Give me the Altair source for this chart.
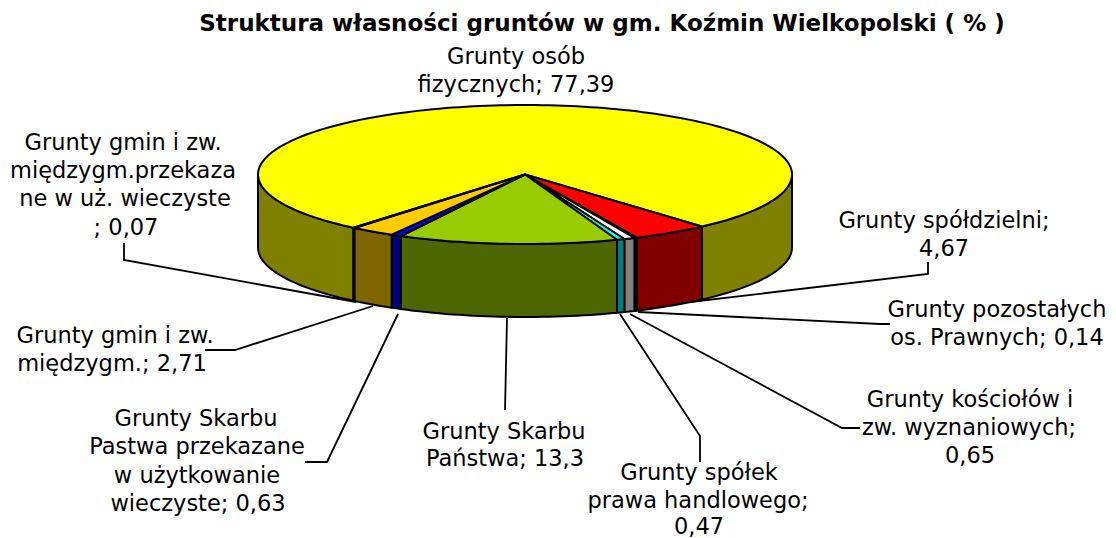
import math
import altair as alt
import pandas as pd

TITLE = "Struktura własności gruntów w gm. Koźmin Wielkopolski ( % )"
NAMES = ["Grunty osób fizycznych", "Grunty spółdzielni", "Grunty pozostałych os. Prawnych",
         "Grunty kościołów i zw. wyznaniowych", "Grunty spółek prawa handlowego",
         "Grunty Skarbu Państwa", "Grunty Skarbu Pastwa przekazane w użytkowanie wieczyste",
         "Grunty gmin i zw. międzygm.", "Grunty gmin i zw. międzygm.przekazane w uż. wieczyste"]
VALUES = [77.39, 4.67, 0.14, 0.65, 0.47, 13.3, 0.63, 2.71, 0.07]
TOPS = ["#FFFF00", "#FF0000", "#CCFFCC", "#FFFFFF", "#00FFFF", "#99CC00", "#0000FF", "#FFCC00", "#FFCC00"]
SIDES = ["#808000", "#800000", "#808080", "#808080", "#008080", "#4D6600", "#000080", "#806600", "#806600"]

LABEL_TEXT = ["Grunty osób", "fizycznych; 77,39",
              "Grunty gmin i zw.", "międzygm.przekaza", "ne w uż. wieczyste", "; 0,07",
              "Grunty spółdzielni;", "4,67",
              "Grunty pozostałych", "os. Prawnych; 0,14",
              "Grunty kościołów i", "zw. wyznaniowych;", "0,65",
              "Grunty spółek", "prawa handlowego;", "0,47",
              "Grunty Skarbu", "Państwa; 13,3",
              "Grunty Skarbu", "Pastwa przekazane", "w użytkowanie", "wieczyste; 0,63",
              "Grunty gmin i zw.", "międzygm.; 2,71"]
LABEL_X = [516, 516, 123, 123, 125, 126, 944, 944, 997, 997, 970, 969, 970,
           699, 698, 699, 504, 505, 196, 197, 197, 198, 115, 112]
LABEL_Y = [57, 85, 143, 171, 199, 228, 221, 249, 310, 338, 400, 428, 456,
           473, 501, 527, 432, 459, 419, 447, 476, 504, 336, 364]

LEADER_ID = [1]*3 + [2]*3 + [3]*3 + [4]*2 + [5]*3 + [6]*3 + [7]*3 + [8]*3
LEADER_X = [124, 124, 356, 205, 235, 373, 305, 327, 398, 505, 507,
            700, 700, 620, 860, 842, 630, 890, 880, 638, 928, 928, 690]
LEADER_Y = [243, 260, 302, 350, 350, 306, 462, 462, 314, 410, 318,
            462, 436, 314, 428, 428, 314, 324, 324, 312, 262, 274, 302]

CX, CY, RX, RY, DEPTH, FIRST_RED = 525, 174.5, 267, 69.5, 73, 48.5


def pt(deg, dy=0.0):
    a = math.radians(deg)
    return [CX + RX * math.cos(a), CY + RY * math.sin(a) + dy]


def arc(a, b, dy=0.0):
    n = max(2, int(abs(b - a) / 1.5) + 2)
    return [pt(a + (b - a) * i / (n - 1), dy) for i in range(n)]


def feature(ring, fill):
    return {"type": "Feature", "properties": {"fill": fill},
            "geometry": {"type": "Polygon", "coordinates": [ring + [ring[0]]]}}


total = sum(VALUES)
start = FIRST_RED - VALUES[0] / total * 360
walls, tops = [], []
angle = start
for value, top, side in zip(VALUES, TOPS, SIDES):
    end = angle + value / total * 360
    for lo, hi in ((0, 180), (360, 540), (-360, -180)):
        a, b = max(angle, lo), min(end, hi)
        if b > a:
            walls.append(feature(arc(a, b) + arc(b, a, DEPTH), side))
    tops.append(feature([[CX, CY]] + arc(angle, end), top))
    angle = end

x_scale = alt.Scale(domain=[8, 1108], range=[0, 1100])
y_scale = alt.Scale(domain=[8, 538], range=[0, 530])

leaders = pd.DataFrame({"id": LEADER_ID, "x": LEADER_X, "y": LEADER_Y,
                        "i": range(len(LEADER_X))})
leader_layer = alt.Chart(leaders).mark_line(color="black", strokeWidth=1.8).encode(
    x=alt.X("x:Q", axis=None, scale=x_scale),
    y=alt.Y("y:Q", axis=None, scale=y_scale),
    detail="id:N", order="i:Q")

pie_layer = alt.Chart(alt.Data(values=walls + tops)).mark_geoshape(
    stroke="black", strokeWidth=2, strokeJoin="round").encode(
    fill=alt.Fill("properties.fill:N", scale=None)).project(
    type="identity", scale=1, translate=[-8, -8])

labels = pd.DataFrame({"t": LABEL_TEXT, "x": LABEL_X, "y": LABEL_Y})
label_layer = alt.Chart(labels).mark_text(
    font="DejaVu Sans", fontSize=22.5, color="black", align="center", baseline="middle").encode(
    x=alt.X("x:Q", axis=None, scale=x_scale),
    y=alt.Y("y:Q", axis=None, scale=y_scale),
    text="t:N")

title_layer = alt.Chart(pd.DataFrame({"t": [TITLE], "x": [602], "y": [24]})).mark_text(
    font="DejaVu Sans", fontSize=23, fontWeight="bold", color="black",
    align="center", baseline="middle").encode(
    x=alt.X("x:Q", axis=None, scale=x_scale),
    y=alt.Y("y:Q", axis=None, scale=y_scale),
    text="t:N")

chart = alt.layer(leader_layer, pie_layer, label_layer, title_layer).properties(
    width=1100, height=530, padding=0, autosize="none",
    background="white").configure_view(stroke=None)
chart.save("out.html", embed_options={"renderer": "svg", "actions": False})
